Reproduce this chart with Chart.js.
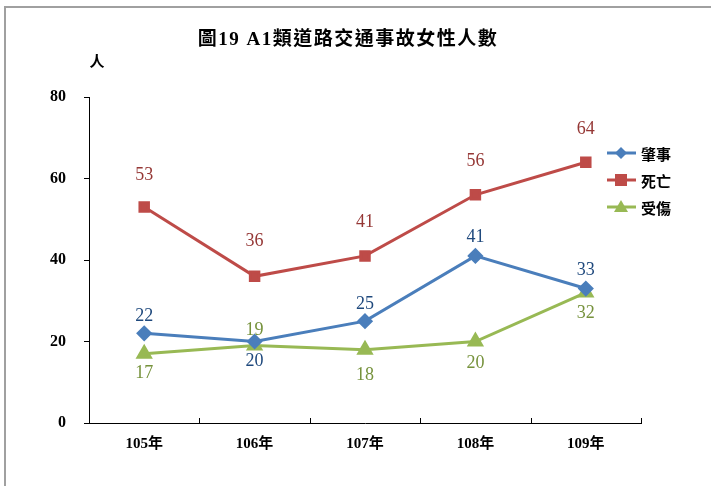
<!DOCTYPE html>
<html>
<head>
<meta charset="utf-8">
<script src="https://cdn.jsdelivr.net/npm/chart.js@4"></script>
<style>
  html, body { margin: 0; padding: 0; background: #fff; }
  #wrap { position: relative; width: 711px; height: 486px; }
  #frame { position: absolute; left: 4px; top: 6px; right: 0; bottom: 0;
           border-top: 2px solid #a0a0a0; border-left: 2px solid #a0a0a0; }
  canvas { position: absolute; left: 0; top: 0; }
</style>
</head>
<body>
<div id="wrap">
  <div id="frame"></div>
  <canvas id="myChart" width="711" height="486"></canvas>
</div>
<script>
// data
const years = ['105年', '106年', '107年', '108年', '109年'];
const accident = [22, 20, 25, 41, 33];   // 肇事
const death = [53, 36, 41, 56, 64];      // 死亡
const injured = [17, 19, 18, 20, 32];    // 受傷
const yTicks = [0, 20, 40, 60, 80];

const serif = '"Liberation Serif", "Noto Sans CJK TC", serif';

// where each value label sits: negative = above the point, positive = below
const labelOffsets = [
  [-17, 20, -17, -19, -18],
  [-32, -35, -34, -34, -33],
  [20, -15, 26, 22, 21]
];
const labelColors = ['#1F497D', '#953735', '#76923C'];

const ctx = document.getElementById('myChart');

const extras = {
  id: 'extras',
  afterDatasetsDraw(chart) {
    const c = chart.ctx;
    const x = chart.scales.x;
    const area = chart.chartArea;

    // inner tick marks on the category axis
    c.save();
    c.strokeStyle = '#000';
    c.lineWidth = 1;
    const step = (x.right - x.left) / years.length;
    for (let i = 1; i <= years.length; i++) {
      const px = Math.round(x.left + i * step) + 0.5;
      c.beginPath();
      c.moveTo(px, area.bottom);
      c.lineTo(px, area.bottom - 5);
      c.stroke();
    }

    // value labels
    c.font = '18px ' + serif;
    c.textAlign = 'center';
    c.textBaseline = 'middle';
    chart.data.datasets.forEach((ds, d) => {
      const meta = chart.getDatasetMeta(d);
      c.fillStyle = labelColors[d];
      meta.data.forEach((pt, i) => {
        c.fillText(ds.data[i], pt.x, pt.y + labelOffsets[d][i]);
      });
    });

    // title and unit
    c.fillStyle = '#000';
    c.font = 'bold 19px ' + serif;
    c.letterSpacing = '1.5px';
    c.fillText('圖19 A1類道路交通事故女性人數', 348, 40);
    c.letterSpacing = '0px';
    c.font = 'bold 15px "Noto Sans CJK TC", sans-serif';
    c.fillText('人', 97, 61);

    // legend with line + marker
    c.textAlign = 'left';
    chart.data.datasets.forEach((ds, d) => {
      const ly = 153 + d * 27;
      c.strokeStyle = ds.borderColor;
      c.lineWidth = 3;
      c.beginPath();
      c.moveTo(607, ly);
      c.lineTo(636, ly);
      c.stroke();
      c.fillStyle = ds.borderColor;
      const cx = 621;
      c.beginPath();
      if (ds.pointStyle === 'rectRot') {
        c.moveTo(cx, ly - 6); c.lineTo(cx + 6, ly); c.lineTo(cx, ly + 6); c.lineTo(cx - 6, ly);
      } else if (ds.pointStyle === 'rect') {
        c.rect(cx - 6, ly - 6, 12, 12);
      } else {
        c.moveTo(cx, ly - 7); c.lineTo(cx + 7, ly + 5); c.lineTo(cx - 7, ly + 5);
      }
      c.closePath();
      c.fill();
      c.fillStyle = '#000';
      c.font = 'bold 15px "Noto Sans CJK TC", sans-serif';
      c.fillText(ds.label, 641, ly + 1);
    });
    c.restore();
  }
};

new Chart(ctx, {
  type: 'line',
  data: {
    labels: years,
    datasets: [{
      label: '肇事',
      data: accident,
      borderColor: '#4A7EBB',
      backgroundColor: '#4A7EBB',
      pointStyle: 'rectRot',
      pointRadius: 6,
      borderWidth: 3
    }, {
      label: '死亡',
      data: death,
      borderColor: '#BE4B48',
      backgroundColor: '#BE4B48',
      pointStyle: 'rect',
      pointRadius: 6,
      borderWidth: 3
    }, {
      label: '受傷',
      data: injured,
      borderColor: '#98B954',
      backgroundColor: '#98B954',
      pointStyle: 'triangle',
      pointRadius: 7,
      borderWidth: 3
    }]
  },
  options: {
    responsive: false,
    animation: false,
    layout: { padding: { left: 32, right: 70, top: 97, bottom: 29 } },
    plugins: {
      legend: { display: false },
      tooltip: { enabled: false }
    },
    scales: {
      x: {
        offset: true,
        grid: { display: false },
        border: { color: '#000', width: 1 },
        ticks: { color: '#000', font: { family: serif, size: 15, weight: 'bold' }, padding: 4 }
      },
      y: {
        min: 0,
        max: 80,
        afterBuildTicks(axis) { axis.ticks = yTicks.map(v => ({ value: v })); },
        grid: { drawOnChartArea: false, tickLength: 5, color: '#000' },
        border: { color: '#000', width: 1 },
        ticks: { color: '#000', font: { family: serif, size: 16, weight: 'bold' }, padding: 18 }
      }
    }
  },
  plugins: [extras]
});
</script>
</body>
</html>
